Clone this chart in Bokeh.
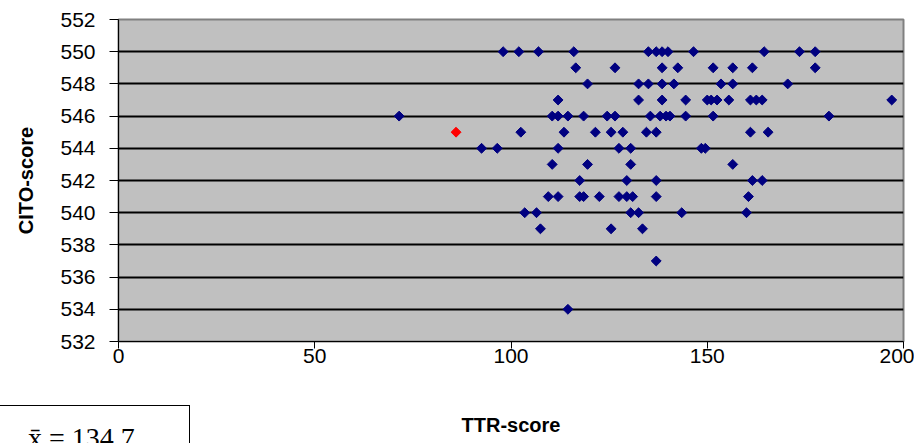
import math
from bokeh.plotting import figure
from bokeh.layouts import column
from bokeh.models import ColumnDataSource, FixedTicker, Div
from bokeh.embed import file_html
from bokeh.resources import INLINE

# pupils (navy)
ttr_score = [
    98, 102, 107, 116, 135, 137, 138.5, 140, 146.5, 164.5, 173.5, 177.5,
    116.5, 126.5, 138.5, 142.5, 151.5, 156.5, 161.5, 177.5,
    119.5, 132.5, 135, 138.5, 141.5, 153.5, 156.5, 170.5,
    112, 132.5, 138.5, 144.5, 150, 151, 152.5, 155.5, 161, 162.5, 164, 197,
    71.5, 110.5, 112, 114.5, 118.5, 124.5, 126.5, 135.5, 138, 139.5, 140.5, 144.5, 151.5, 181,
    102.5, 113.5, 121.5, 125.5, 128.5, 134.5, 137, 161, 165.5,
    92.5, 96.5, 112, 127.5, 130.5, 148.5, 149.5,
    110.5, 119.5, 130.5, 156.5,
    117.5, 129.5, 137, 161.5, 164,
    109.5, 112, 117.5, 118.5, 122.5, 127.5, 129.5, 131, 137, 160.5,
    103.5, 106.5, 130.5, 132.5, 143.5, 160,
    107.5, 125.5, 133.5,
    137,
    114.5,
]
cito_score = (
    [550] * 12 + [549] * 8 + [548] * 8 + [547] * 12 + [546] * 14 + [545] * 9
    + [544] * 7 + [543] * 4 + [542] * 5 + [541] * 10 + [540] * 6 + [539] * 3
    + [537] * 1 + [534] * 1
)

# highlighted pupil (red)
red_ttr = [86]
red_cito = [545]

x_ticks = [0, 50, 100, 150, 200]
y_ticks = list(range(532, 553, 2))
mean_text = "x\u0304 = 134.7"

p = figure(width=914, height=440, output_backend="svg", toolbar_location=None,
           x_range=(0, 200), y_range=(532, 552),
           min_border_left=118, min_border_right=11, min_border_top=19,
           min_border_bottom=99)
p.background_fill_color = "#C0C0C0"
p.border_fill_color = "white"
p.outline_line_color = "#808080"
p.outline_line_width = 2

p.xgrid.grid_line_color = None
p.ygrid.grid_line_color = "black"
p.ygrid.grid_line_width = 2
p.ygrid.ticker = FixedTicker(ticks=y_ticks)

p.xaxis.ticker = FixedTicker(ticks=x_ticks)
p.yaxis.ticker = FixedTicker(ticks=y_ticks)
for ax in (p.xaxis, p.yaxis):
    ax.axis_line_color = "black"
    ax.major_tick_line_color = "black"
    ax.minor_tick_line_color = None
    ax.major_label_text_font = "Liberation Sans"
    ax.major_label_text_font_size = "21px"
    ax.major_label_text_color = "black"
    ax.axis_label_text_font = "Liberation Sans"
    ax.axis_label_text_font_size = "20px"
    ax.axis_label_text_font_style = "bold"
    ax.axis_label_text_color = "black"
p.xaxis.major_tick_in = 0
p.xaxis.major_tick_out = 7
p.xaxis.major_label_standoff = 0
p.xaxis.axis_label = "TTR-score"
p.xaxis.axis_label_standoff = 48
p.yaxis.major_tick_in = 0
p.yaxis.major_tick_out = 9
p.yaxis.major_label_standoff = 14
p.yaxis.axis_label = "CITO-score"
p.yaxis.axis_label_standoff = 20

src = ColumnDataSource(data=dict(x=ttr_score, y=cito_score))
p.scatter("x", "y", source=src, marker="square", angle=math.pi / 4, size=7,
          fill_color="#000080", line_color="#000080")
src_red = ColumnDataSource(data=dict(x=red_ttr, y=red_cito))
p.scatter("x", "y", source=src_red, marker="square", angle=math.pi / 4, size=7,
          fill_color="#FF0000", line_color="#FF0000")

# partly visible box with the mean, overlapping the bottom of the figure
box = Div(text=mean_text, width=190, height=38, margin=(-35, 0, 0, 0),
          styles={"border-top": "1px solid black", "border-right": "1px solid black",
                  "background-color": "white", "font-family": "Liberation Serif",
                  "font-size": "28px", "line-height": "1", "color": "black",
                  "padding-left": "28px", "padding-top": "18px",
                  "box-sizing": "border-box", "overflow": "hidden"})

layout = column(p, box, spacing=0)
open("out.html", "w").write(file_html(layout, INLINE))
